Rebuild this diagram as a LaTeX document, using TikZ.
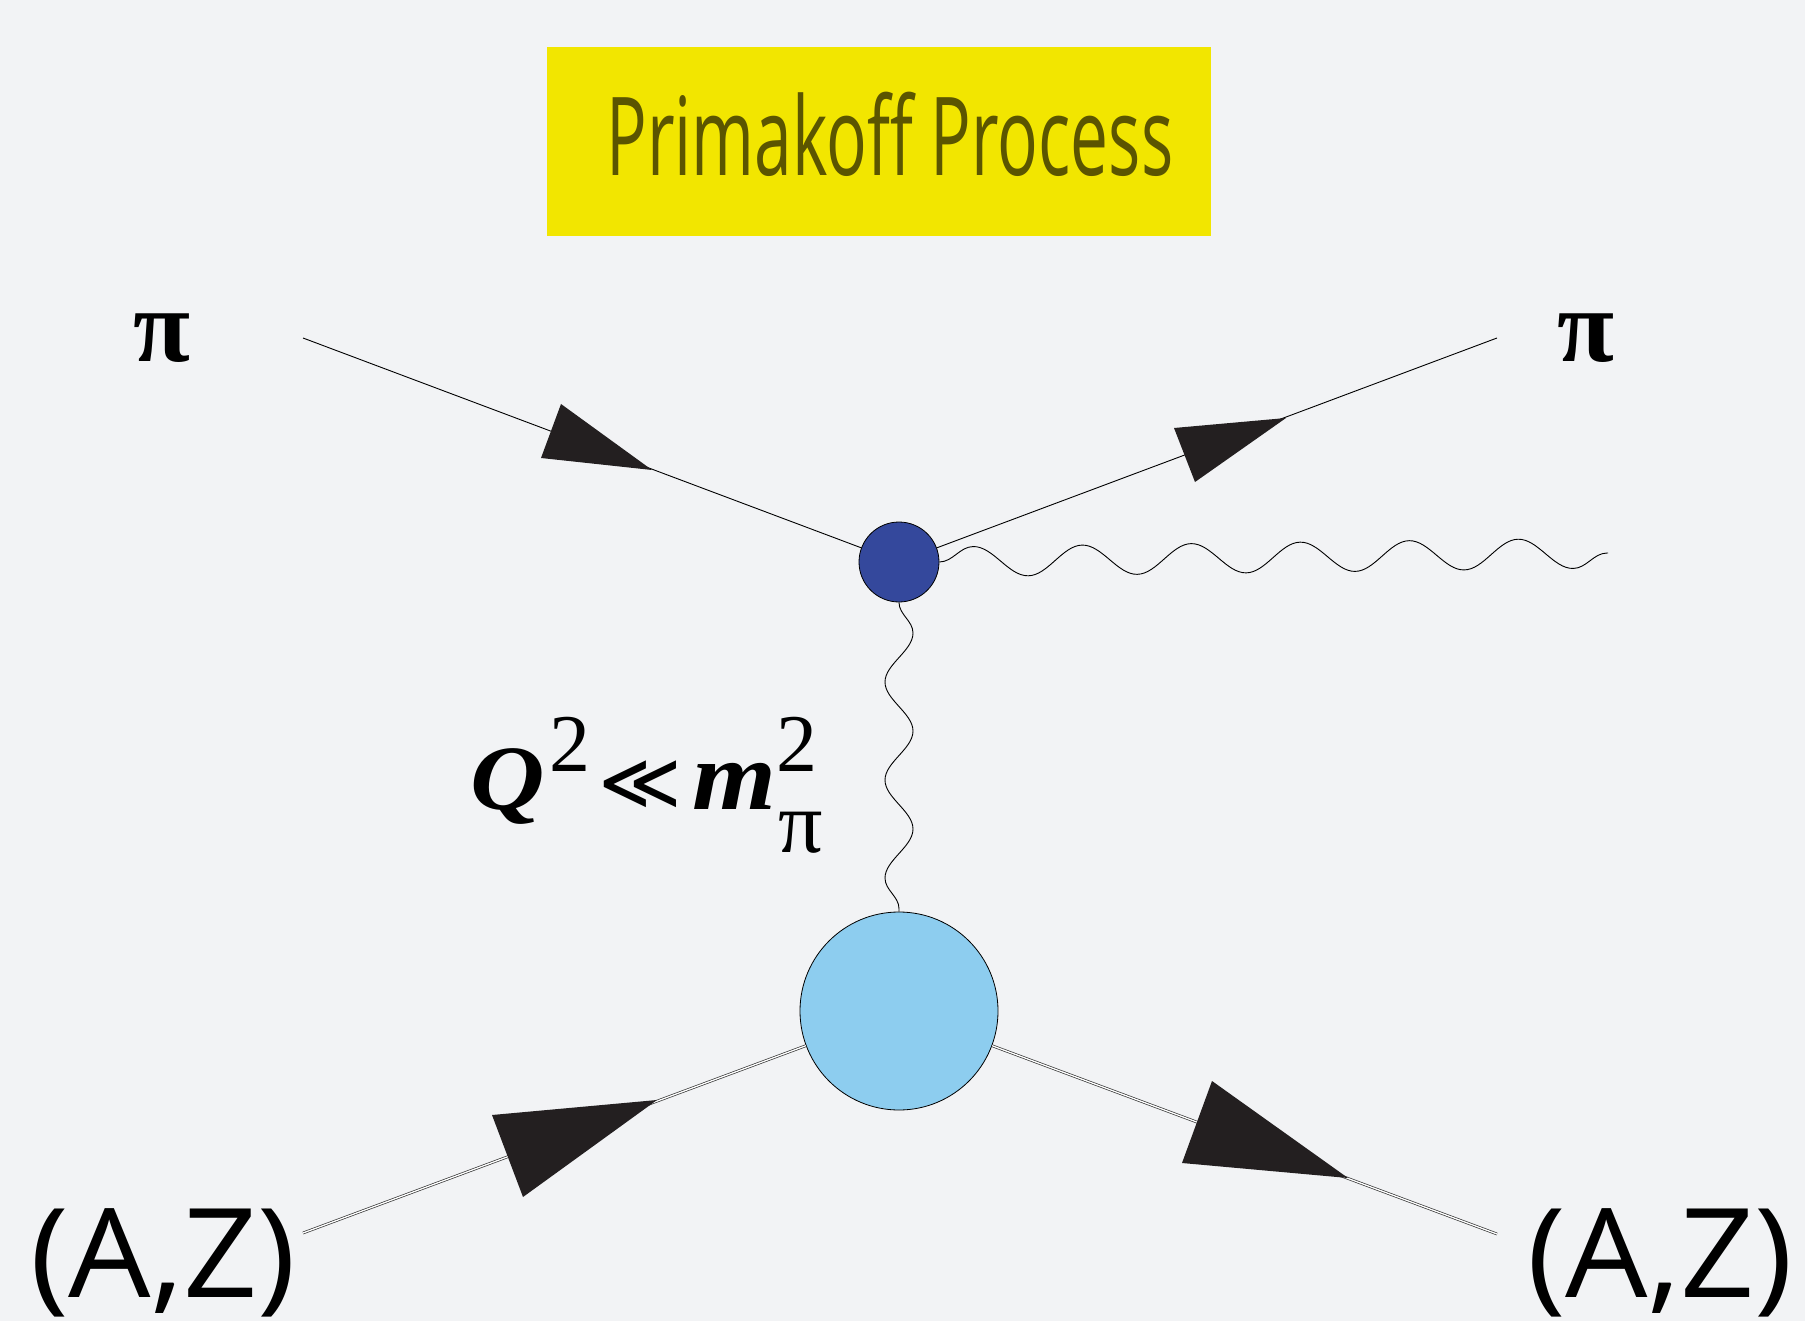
\documentclass[tikz,border=0pt]{standalone}
\usepackage{fontspec}
\usepackage{graphicx}
\setsansfont{Open Sans}
\newfontfamily\lserif{Liberation Serif}
\newfontfamily\dvsans{DejaVu Sans}
\usetikzlibrary{decorations.pathmorphing}
\definecolor{bg}{HTML}{F2F3F5}
\definecolor{ybox}{HTML}{F2E600}
\definecolor{ttext}{HTML}{5B5500}
\definecolor{vblue}{HTML}{34489C}
\definecolor{nblue}{HTML}{8DCDEF}
\definecolor{arr}{HTML}{231F20}
\newsavebox\qbox
\tikzset{
  pion/.style={draw=black, line width=0.9pt},
  nucl/.style={draw=black!80, line width=0.7pt, double=white, double distance=1.3pt},
  photon/.style={draw=black, line width=0.9pt, decorate},
  arrowhead/.style={fill=arr},
  pilabel/.style={font=\lserif\bfseries\fontsize{104}{104}\selectfont, inner sep=0pt},
  azlabel/.style={font=\sffamily\fontsize{124}{124}\selectfont, inner sep=0pt, anchor=base},
}
\begin{document}
\sbox\qbox{\lserif\fontsize{92}{92}\selectfont
  \scalebox{1.12}[1]{\bfseries\itshape Q}\kern5pt\raisebox{38pt}{\fontsize{82}{82}\selectfont 2}\kern8pt{\dvsans\fontsize{80}{80}\selectfont ≪}\kern10pt\scalebox{1.1}[1]{\bfseries\itshape\fontsize{98}{98}\selectfont m}\kern0pt\rlap{\raisebox{38pt}{\fontsize{82}{82}\selectfont 2}}\kern2pt\raisebox{-43pt}{\fontsize{88}{88}\selectfont π}}%
\begin{tikzpicture}[x=1pt,y=-1pt]
\fill[bg] (0,0) rectangle (1805,1321);
\useasboundingbox (0,0) rectangle (1805,1321);

% title
\node[fill=ybox, minimum width=664pt, minimum height=189pt, inner sep=0pt, anchor=north west] (title) at (547,47) {};
\node[anchor=base, text=ttext, inner sep=0pt] (titletext) at (890,176) {\resizebox{567pt}{\height}{\sffamily\fontsize{109}{109}\selectfont Primakoff Process}};

% vertices
\node[circle, fill=vblue, draw=black, line width=0.8pt, minimum size=80pt, inner sep=0pt] (v1) at (899,562) {};
\node[circle, fill=nblue, draw=black, line width=0.8pt, minimum size=198pt, inner sep=0pt] (v2) at (899,1011) {};

% external points
\coordinate (inL) at (303,338);
\coordinate (outR) at (1497,338);
\coordinate (ninL) at (303,1233);
\coordinate (noutR) at (1497,1234);
\coordinate (gend) at (1608,553);

% labels
\node[pilabel] (piL) at (162,338) {π};
\node[pilabel] (piR) at (1586,338) {π};
\node[azlabel] (azL) at (163,1297) {\scalebox{1.05}[1]{(A,Z)}};
\node[azlabel] (azR) at (1660,1297) {\scalebox{1.05}[1]{(A,Z)}};
\node[anchor=base west, inner sep=0pt] (qlabel) at (470,809) {\usebox\qbox};

% lines
\draw[pion] (inL) -- (v1);
\draw[pion] (v1) -- (outR);
\draw[nucl] (ninL) -- (v2);
\draw[nucl] (v2) -- (noutR);

% photons
\draw[photon, decoration={snake, segment length=109pt, amplitude=15pt}] (v1.east) -- (gend);
\draw[photon, decoration={snake, segment length=98pt, amplitude=14pt}] (v1.south) -- (v2.north);

% arrowheads
\fill[arrowhead] (652,470) -- (561,404) -- (541,458) -- cycle;
\fill[arrowhead] (1286,418) -- (1174,428) -- (1195,482) -- cycle;
\fill[arrowhead] (657,1100) -- (492,1115) -- (523,1197) -- cycle;
\fill[arrowhead] (1348,1178) -- (1212,1081) -- (1182,1163) -- cycle;
\end{tikzpicture}
\end{document}
